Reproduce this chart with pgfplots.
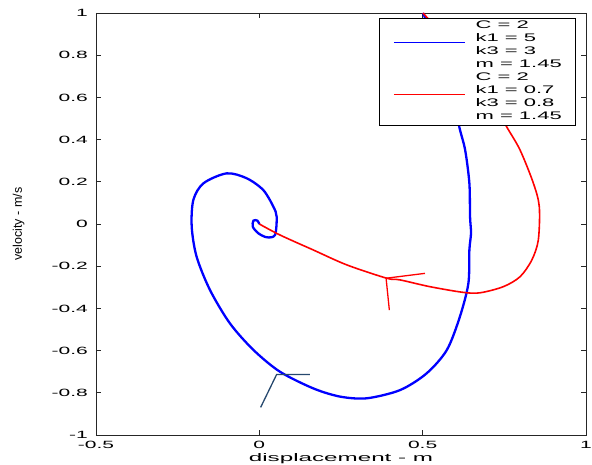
\documentclass[border=0pt]{standalone}
\usepackage{fontspec}
\setmainfont{Liberation Sans}
\newfontfamily\widefont[FakeStretch=2.0]{Liberation Sans}
\newfontfamily\legfont[FakeStretch=2.0]{Liberation Sans}
\newfontfamily\xlabfont[FakeStretch=2.2]{Liberation Sans}
\usepackage{pgfplots}
\pgfplotsset{compat=1.18}
\definecolor{steel}{RGB}{38,72,110}
\begin{document}
\begin{tikzpicture}
\begin{axis}[
  scale only axis, width=490bp, height=422bp,
  xmin=-0.5, xmax=1, ymin=-1, ymax=1,
  xtick={-0.5,0,0.5,1}, xticklabels={-0.5,0,0.5,1},
  ytick={-1,-0.8,-0.6,-0.4,-0.2,0,0.2,0.4,0.6,0.8,1},
  yticklabels={-1,-0.8,-0.6,-0.4,-0.2,0,0.2,0.4,0.6,0.8,1},
  tick align=inside, major tick length=5bp,
  axis line style={line width=0.8bp, black!85},
  tick style={line width=0.6bp, black!85},
  xticklabel style={font=\widefont\fontsize{10.5bp}{12bp}\selectfont, anchor=center, inner sep=0pt, yshift=-10bp},
  yticklabel style={font=\widefont\fontsize{10.5bp}{12bp}\selectfont, anchor=east, inner sep=0pt, xshift=-8bp},
  xlabel={displacement - m},
  ylabel={velocity - m/s},
  x label style={font=\xlabfont\fontsize{11bp}{13bp}\selectfont, at={(axis description cs:0.5,-0.057)}, anchor=center},
  y label style={font=\fontsize{12.5bp}{14bp}\selectfont, at={(axis description cs:-0.158,0.5)}, anchor=center, rotate=0},
  legend cell align=left,
  legend image code/.code={\draw[#1, line width=1.3bp] (0bp,-3bp) -- (71bp,-3bp);},
  legend style={at={(0.98,0.988)}, anchor=north east, draw=black, line width=0.8bp,
    inner xsep=14bp, inner ysep=1.5bp, row sep=0bp, column sep=10bp,
    nodes={inner sep=0pt, text height=9bp, text depth=4bp, font=\legfont\fontsize{11bp}{13.2bp}\selectfont}},
]
\addlegendimage{empty legend}
\addlegendentry{C = 2}
\addplot[blue, line width=2.3bp, smooth] coordinates {
(0.501,1.0)(0.54,0.86)(0.575,0.72)(0.60,0.58)(0.612,0.461)(0.630,0.351)(0.643,0.193)(0.645,0.035)(0.648,-0.043)(0.643,-0.123)(0.640,-0.281)(0.614,-0.439)(0.574,-0.597)(0.512,-0.708)(0.431,-0.787)(0.329,-0.826)(0.247,-0.818)(0.165,-0.779)(0.063,-0.700)(-0.018,-0.597)(-0.090,-0.471)(-0.151,-0.313)(-0.192,-0.155)(-0.207,-0.013)(-0.202,0.114)(-0.171,0.193)(-0.100,0.240)(-0.039,0.217)(0.012,0.161)(0.043,0.082)(0.053,0.035)(0.048,-0.052)(0.023,-0.063)(-0.003,-0.044)(-0.020,-0.013)(-0.018,0.016)(-0.006,0.016)(0,0)
};
\addlegendentry{k1 = 5}
\addlegendimage{empty legend}
\addlegendentry{k3 = 3}
\addlegendimage{empty legend}
\addlegendentry{m = 1.45}
\addlegendimage{empty legend}
\addlegendentry{C = 2}
\addplot[red, line width=1.6bp, smooth] coordinates {
(0.501,1.0)(0.58,0.86)(0.65,0.72)(0.71,0.59)(0.757,0.461)(0.798,0.351)(0.839,0.193)(0.857,0.082)(0.854,-0.076)(0.834,-0.171)(0.798,-0.250)(0.747,-0.297)(0.676,-0.326)(0.624,-0.324)(0.522,-0.297)(0.431,-0.265)(0.390,-0.257)(0.268,-0.194)(0.165,-0.123)(0.063,-0.052)(0,0)
};
\addlegendentry{k1 = 0.7}
\addlegendimage{empty legend}
\addlegendentry{k3 = 0.8}
\addlegendimage{empty legend}
\addlegendentry{m = 1.45}
\addplot[steel, line width=1.3bp, forget plot] coordinates {(0.004,-0.869)(0.053,-0.713)(0.155,-0.713)};
\addplot[red, line width=1.3bp, forget plot] coordinates {(0.398,-0.408)(0.388,-0.257)(0.507,-0.234)};
\end{axis}
\pgfresetboundingbox
\path ([shift={(-96bp,-30bp)}]current axis.south west) rectangle ([shift={(6bp,13bp)}]current axis.north east);
\end{tikzpicture}
\end{document}
